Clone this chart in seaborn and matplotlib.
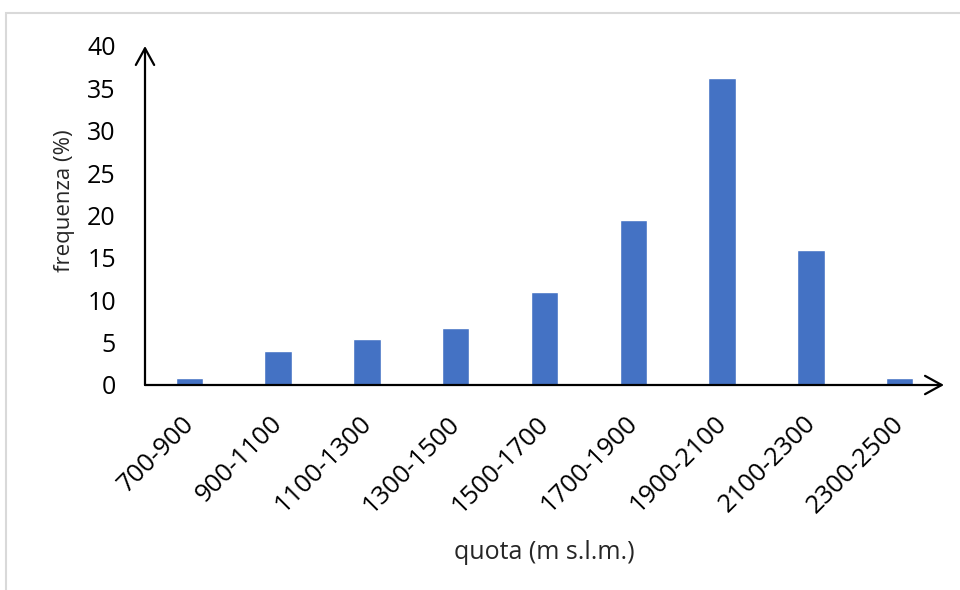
import matplotlib
matplotlib.use("Agg")
import matplotlib.pyplot as plt
import matplotlib.patches as mpatches
import matplotlib.transforms as mtransforms
import seaborn as sns
import pandas as pd

# Altitude classes and share of sites in each class
fasce = ["700-900", "900-1100", "1100-1300", "1300-1500", "1500-1700",
         "1700-1900", "1900-2100", "2100-2300", "2300-2500"]
frequenza = [0.8, 4.0, 5.4, 6.7, 11.0, 19.5, 36.2, 15.9, 0.8]
yticks = [0, 5, 10, 15, 20, 25, 30, 35, 40]

sns.set_theme(style="white")
plt.rcParams["font.family"] = ["Open Sans", "DejaVu Sans"]

df = pd.DataFrame({"quota": fasce, "frequenza": frequenza})

W, H = 960, 590
fig = plt.figure(figsize=(W / 100, H / 100), dpi=100)
ax = fig.add_axes([145 / W, (H - 385) / H, (944 - 145) / W, (385 - 46) / H])

# light chart-area border
fig.patches.append(mpatches.Rectangle((6 / W, -0.1), 1.2, (H - 13) / H + 0.1,
                                      transform=fig.transFigure, fill=False,
                                      edgecolor="#d9d9d9", linewidth=1.5))

sns.barplot(data=df, x="quota", y="frequenza", color="#4472C4",
            saturation=1, width=0.31, ax=ax)

ax.set_xlim(-0.5, 8.5)
ax.set_ylim(0, 40)
ax.set_yticks(yticks)
ax.set_yticklabels([str(v) for v in yticks])
for s in ax.spines.values():
    s.set_visible(False)

ax.tick_params(axis="y", length=0, pad=21, labelsize=18, labelcolor="black")
ax.tick_params(axis="x", length=0, pad=8, labelsize=18.5, labelcolor="black")
shift = mtransforms.ScaledTranslation(-8 / 100, -15 / 100, fig.dpi_scale_trans)
for lab in ax.get_xticklabels():
    lab.set_rotation(45)
    lab.set_ha("right")
    lab.set_rotation_mode("anchor")
    lab.set_transform(lab.get_transform() + shift)

ax.set_xlabel("quota (m s.l.m.)", fontsize=18, labelpad=16)
ax.set_ylabel("frequenza (%)", fontsize=16, labelpad=8)
ax.yaxis.set_label_coords(-0.088, 0.543)

# axes drawn as open arrows
arrow = dict(arrowstyle="->,head_length=1.0,head_width=0.55", color="black",
             lw=1.6, shrinkA=0, shrinkB=0)
ax.annotate("", xy=(0, 1.0), xytext=(0, 0), xycoords="axes fraction",
            arrowprops=arrow, annotation_clip=False)
ax.annotate("", xy=(1.0, 0), xytext=(0, 0), xycoords="axes fraction",
            arrowprops=arrow, annotation_clip=False)

fig.savefig("out.png", dpi=100)
